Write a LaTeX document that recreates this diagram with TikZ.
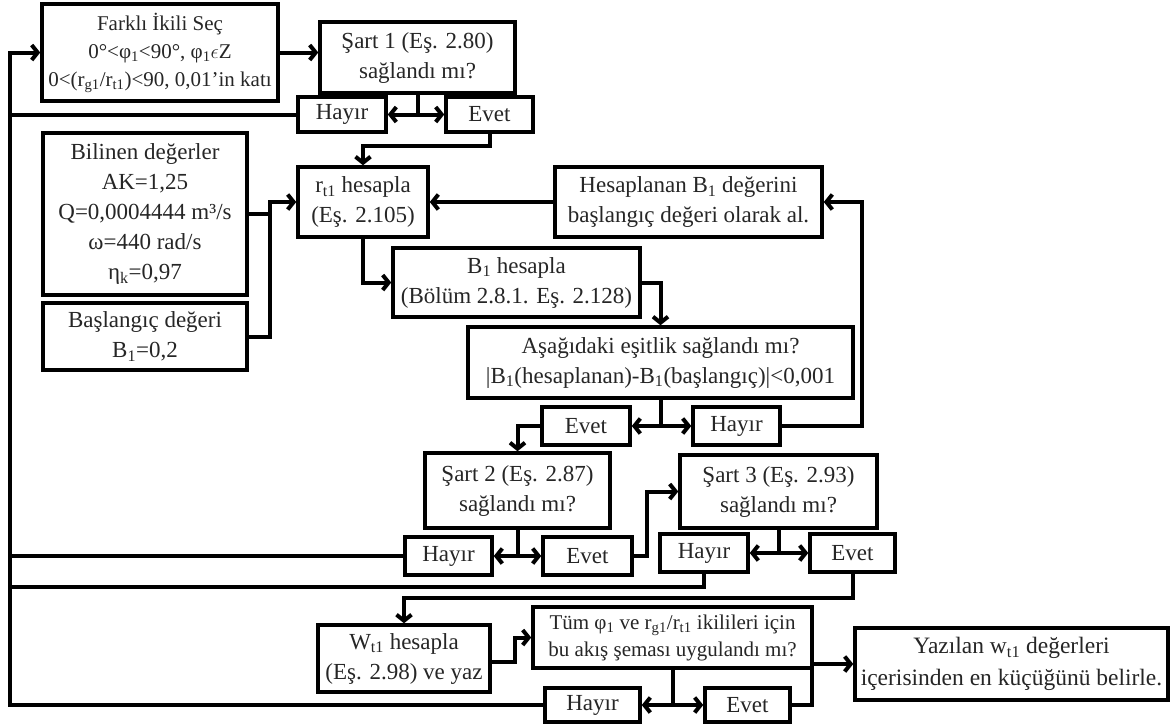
\documentclass[tikz,border=0pt]{standalone}
\usepackage{fontspec}
\setmainfont{Liberation Serif}
\usetikzlibrary{arrows.meta}

\begin{document}
\begin{tikzpicture}
[every node/.style={inner sep=0pt},
 box/.style={draw=black, line width=3.5pt, fill=white, align=center, text=black!85, font=\fontsize{23}{30}\selectfont},
 wire/.style={line width=4pt, color=black},
 >={Straight Barb[length=6pt, width=15pt]}]
\useasboundingbox (0pt, 0pt) rectangle (1171pt, -726pt);
\node (1) [box, minimum width=236pt, minimum height=97pt, font=\fontsize{21}{28}\selectfont] at (160.0pt, -52.5pt) {Farklı İkili Seç\\0°<φ\textsubscript{1}<90°, φ\textsubscript{1}$\epsilon$Z\\0<(r\textsubscript{g1}/r\textsubscript{t1})<90, 0,01’in katı};
\node (2) [box, minimum width=195pt, minimum height=71pt] at (417.5pt, -57.5pt) {Şart 1 (Eş. 2.80)\\sağlandı mı?};
\node (3) [box, minimum width=88pt, minimum height=35pt] at (342.0pt, -114.5pt) {Hayır};
\node (4) [box, minimum width=87pt, minimum height=35pt] at (489.5pt, -114.5pt) {Evet};
\node (5) [box, minimum width=204pt, minimum height=162pt] at (145.0pt, -214.0pt) {Bilinen değerler\\AK=1,25\\Q=0,0004444 m³/s\\ω=440 rad/s\\η\textsubscript{k}=0,97};
\node (6) [box, minimum width=204pt, minimum height=67pt] at (145.0pt, -336.5pt) {Başlangıç değeri\\B\textsubscript{1}=0,2};
\node (7) [box, minimum width=130pt, minimum height=70pt] at (363.0pt, -202.0pt) {r\textsubscript{t1} hesapla\\(Eş. 2.105)};
\node (8) [box, minimum width=267pt, minimum height=70pt] at (688.5pt, -202.0pt) {Hesaplanan B\textsubscript{1} değerini\\başlangıç değeri olarak al.};
\node (9) [box, minimum width=247pt, minimum height=69pt] at (516.5pt, -282.5pt) {B\textsubscript{1} hesapla\\(Bölüm 2.8.1. Eş. 2.128)};
\node (10) [box, minimum width=385pt, minimum height=71pt] at (660.5pt, -362.5pt) {Aşağıdaki eşitlik sağlandı mı?\\|B\textsubscript{1}(hesaplanan)-B\textsubscript{1}(başlangıç)|<0,001};
\node (11) [box, minimum width=88pt, minimum height=38pt] at (586.0pt, -426.0pt) {Evet};
\node (12) [box, minimum width=87pt, minimum height=38pt] at (736.5pt, -426.0pt) {Hayır};
\node (13) [box, minimum width=185pt, minimum height=75pt] at (517.5pt, -490.5pt) {Şart 2 (Eş. 2.87)\\sağlandı mı?};
\node (14) [box, minimum width=87pt, minimum height=38pt] at (448.5pt, -556.0pt) {Hayır};
\node (15) [box, minimum width=89pt, minimum height=38pt] at (587.5pt, -556.0pt) {Evet};
\node (16) [box, minimum width=197pt, minimum height=73pt] at (778.5pt, -491.5pt) {Şart 3 (Eş. 2.93)\\sağlandı mı?};
\node (17) [box, minimum width=88pt, minimum height=38pt] at (704.0pt, -553.0pt) {Hayır};
\node (18) [box, minimum width=85pt, minimum height=38pt] at (852.5pt, -553.0pt) {Evet};
\node (19) [box, minimum width=172pt, minimum height=67pt] at (404.0pt, -658.5pt) {W\textsubscript{t1} hesapla\\(Eş. 2.98) ve yaz};
\node (20) [box, minimum width=279pt, minimum height=61pt, font=\fontsize{21}{27}\selectfont] at (672.5pt, -637.5pt) {Tüm φ\textsubscript{1} ve r\textsubscript{g1}/r\textsubscript{t1} ikilileri için\\bu akış şeması uygulandı mı?};
\node (21) [box, minimum width=95pt, minimum height=34pt] at (592.5pt, -705.0pt) {Hayır};
\node (22) [box, minimum width=85pt, minimum height=34pt] at (747.5pt, -705.0pt) {Evet};
\node (23) [box, minimum width=313pt, minimum height=72pt, font=\fontsize{23.5}{32}\selectfont] at (1011.5pt, -664.0pt) {Yazılan w\textsubscript{t1} değerleri\\içerisinden en küçüğünü belirle.};
\coordinate (c1) at (10.0pt, -52.5pt);
\coordinate (c2) at (10.0pt, -587.0pt);
\coordinate (c3) at (404.0pt, -598.0pt);
\coordinate (c4) at (363.0pt, -146.0pt);
\coordinate (c5) at (270.0pt, -202.0pt);
\coordinate (c6) at (862.0pt, -202.0pt);
\coordinate (c7) at (647.0pt, -491.5pt);
\coordinate (c8) at (515.0pt, -662.0pt);
\coordinate (c9) at (812.0pt, -664.0pt);
\draw [wire, ->] (21.west) -| (c1) to (1.west);
\draw [wire, ->] (1.east |- c1) to (c1 -| 2.west);
\draw [wire] (2.south) to (2.south |- 3);
\draw [wire, <->] (3) to (4);
\draw [wire] (3.west) to (3 -| c1);
\draw [wire, ->] (4.south) |- (c4) to (7.north);
\draw [wire, ->] (5.east) -| (c5) to (7.west);
\draw [wire] (6.east) -| (c5);
\draw [wire, ->] (8) to (7);
\draw [wire, ->] (7.south) |- (9.west);
\draw [wire, ->] (9.east) -| (10.north);
\draw [wire] (10.south) to (10.south |- 11);
\draw [wire, <->] (11) to (12);
\draw [wire, ->] (12.east) -| (c6) to (8.east);
\draw [wire, ->] (11.west) -| (13.north);
\draw [wire] (13.south) to (13.south |- 14);
\draw [wire, <->] (14) to (15);
\draw [wire] (14.west) to (14 -| c1);
\draw [wire, ->] (15.east) -| (c7) to (16.west);
\draw [wire] (16.south) to (16.south |- 17);
\draw [wire, <->] (17) to (18);
\draw [wire] (17.south) |- (c2);
\draw [wire, ->] (18.south) |- (c3) to (19.north);
\draw [wire, ->] (19.east |- c8) to (c8) |- (20.west);
\draw [wire] (20.south) to (20.south |- 21);
\draw [wire, <->] (21) to (22);
\draw [wire, ->] (22.east) -| (c9) to (23.west);
\end{tikzpicture}
\end{document}
